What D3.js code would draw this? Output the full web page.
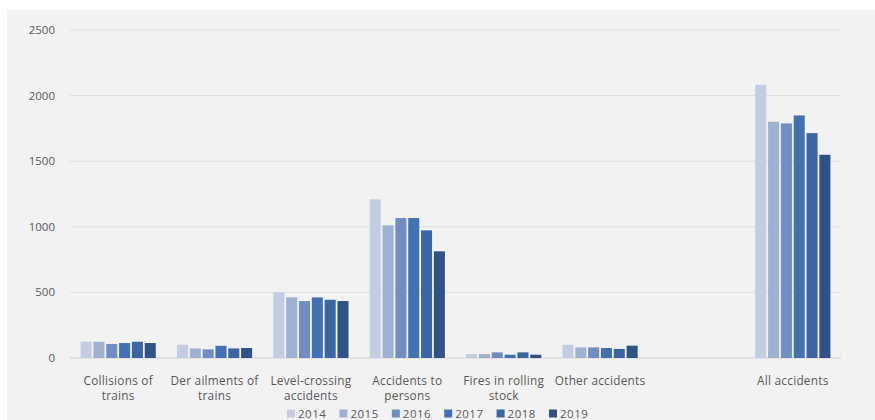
<!DOCTYPE html>
<html>
<head>
<meta charset="utf-8">
<script src="https://cdn.jsdelivr.net/npm/d3@7"></script>
<style>
  html, body { margin: 0; padding: 0; background: #ffffff; }
  svg { display: block; }
  text { font-family: "Open Sans", "Liberation Sans", sans-serif; fill: #595959; }
</style>
</head>
<body>
<svg id="chart" width="875" height="420"></svg>
<script>
// Railway accidents by type, 2014-2019
const categories = [
  ["Collisions of", "trains"],
  ["Der ailments of", "trains"],
  ["Level-crossing", "accidents"],
  ["Accidents to", "persons"],
  ["Fires in rolling", "stock"],
  ["Other accidents"],
  [""],
  ["All accidents"]
];
const years = ["2014", "2015", "2016", "2017", "2018", "2019"];
const values2014 = [124, 101, 500, 1209, 30, 101, null, 2082];
const values2015 = [124,  73, 462, 1011, 30,  81, null, 1801];
const values2016 = [107,  66, 434, 1067, 43,  81, null, 1788];
const values2017 = [114,  93, 462, 1067, 25,  76, null, 1849];
const values2018 = [124,  73, 444,  973, 43,  69, null, 1714];
const values2019 = [114,  76, 434,  813, 25,  94, null, 1549];
const series = [values2014, values2015, values2016, values2017, values2018, values2019];
const yTicks = [0, 500, 1000, 1500, 2000, 2500];
const colors = ["#c3cde1", "#9fb1d1", "#6f8fc3", "#4272b3", "#3b66a1", "#2f5287"];

const svg = d3.select("#chart");

// panel background
svg.append("rect")
  .attr("x", 7).attr("y", 10).attr("width", 868).attr("height", 410)
  .attr("fill", "#f2f2f2");

const plotLeft = 70, plotRight = 841, plotTop = 30, plotBottom = 358;

const x = d3.scaleBand()
  .domain(d3.range(categories.length))
  .range([plotLeft, plotRight])
  .paddingInner(0.22).paddingOuter(0.11);

const xi = d3.scaleBand()
  .domain(years)
  .range([0, x.bandwidth()])
  .paddingInner(0.14);

const y = d3.scaleLinear().domain([0, 2500]).range([plotBottom, plotTop]);

// gridlines
svg.append("g")
  .selectAll("line")
  .data(yTicks)
  .join("line")
  .attr("x1", plotLeft).attr("x2", plotRight)
  .attr("y1", d => y(d)).attr("y2", d => y(d))
  .attr("stroke", d => d === 0 ? "#d0d0d0" : "#dedede")
  .attr("stroke-width", 1);

// y tick labels
svg.append("g")
  .selectAll("text")
  .data(yTicks)
  .join("text")
  .attr("x", 55)
  .attr("y", d => y(d))
  .attr("dy", "0.35em")
  .attr("text-anchor", "end")
  .attr("font-size", 11.5)
  .text(d => d);

// bars
years.forEach((yr, si) => {
  svg.append("g")
    .selectAll("rect")
    .data(series[si].map((v, i) => ({ i, v })).filter(d => d.v != null))
    .join("rect")
    .attr("x", d => x(d.i) + xi(yr))
    .attr("y", d => y(d.v))
    .attr("width", xi.bandwidth())
    .attr("height", d => y(0) - y(d.v))
    .attr("fill", colors[si]);
});

// category labels
const cat = svg.append("g")
  .selectAll("text")
  .data(categories.map((lines, i) => ({ lines, i })))
  .join("text")
  .attr("text-anchor", "middle")
  .attr("font-size", 11.8)
  .attr("letter-spacing", 0.25)
  .attr("x", d => x(d.i) + x.bandwidth() / 2)
  .attr("y", 385);
cat.selectAll("tspan")
  .data(d => d.lines.map(t => ({ t, cx: x(d.i) + x.bandwidth() / 2 })))
  .join("tspan")
  .attr("x", d => d.cx)
  .attr("dy", (d, j) => j === 0 ? 0 : 14.5)
  .text(d => d.t);

// legend
const legend = svg.append("g").attr("transform", "translate(287,413.5)");
const item = legend.selectAll("g")
  .data(years)
  .join("g")
  .attr("transform", (d, i) => `translate(${i * 52.4},0)`);
item.append("rect")
  .attr("x", 0).attr("y", -4).attr("width", 8).attr("height", 8)
  .attr("fill", (d, i) => colors[i]);
item.append("text")
  .attr("x", 11).attr("y", 0).attr("dy", "0.35em")
  .attr("font-size", 11.5)
  .attr("letter-spacing", 0.5)
  .text(d => d);
</script>
</body>
</html>
